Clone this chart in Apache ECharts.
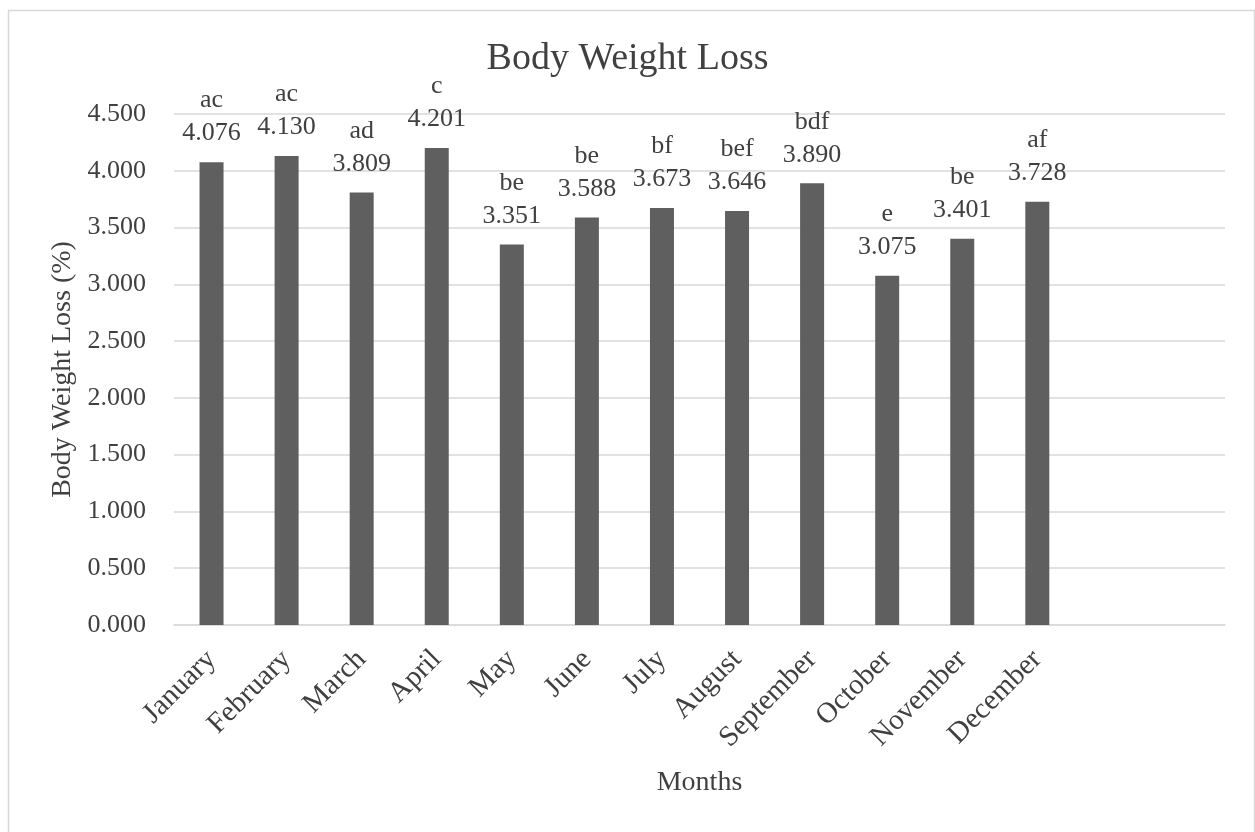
<!DOCTYPE html>
<html>
<head>
<meta charset="utf-8">
<script src="https://cdn.jsdelivr.net/npm/echarts@6/dist/echarts.min.js"></script>
<style>
html,body{margin:0;padding:0;background:#fff;}
#chart{width:1255px;height:832px;}
</style>
</head>
<body>
<div id="chart"></div>
<script>
const categories = ['January','February','March','April','May','June','July','August','September','October','November','December','',''];
const values = [4.076, 4.130, 3.809, 4.201, 3.351, 3.588, 3.673, 3.646, 3.890, 3.075, 3.401, 3.728];
const letters = ['ac','ac','ad','c','be','be','bf','bef','bdf','e','be','af'];
const yTicks = {min: 0, max: 4.5, interval: 0.5};

const FONT = '"Liberation Serif", "DejaVu Serif", serif';
const TXT = '#404040';
const chart = echarts.init(document.getElementById('chart'), null, {renderer: 'canvas'});
chart.setOption({
  animation: false,
  backgroundColor: '#ffffff',
  textStyle: {fontFamily: FONT, color: TXT},
  graphic: [{
    type: 'rect', left: 6, top: 8, shape: {width: 1246, height: 840},
    style: {fill: 'none', stroke: '#d9d9d9', lineWidth: 1.5}, silent: true
  }],
  title: {
    text: 'Body Weight Loss', left: 'center', top: 35,
    textStyle: {fontFamily: FONT, fontSize: 38, fontWeight: 'normal', color: TXT}
  },
  grid: {left: 174, right: 30, top: 114, bottom: 207},
  xAxis: {
    type: 'category', data: categories,
    name: 'Months', nameLocation: 'middle', nameGap: 144,
    nameTextStyle: {fontFamily: FONT, fontSize: 28, color: TXT},
    axisLine: {show: true, lineStyle: {color: '#d9d9d9', width: 1.5}},
    axisTick: {show: false},
    axisLabel: {rotate: 45, margin: 30, interval: 0, fontFamily: FONT, fontSize: 29, color: TXT}
  },
  yAxis: {
    type: 'value', min: yTicks.min, max: yTicks.max, interval: yTicks.interval,
    name: 'Body Weight Loss (%)', nameLocation: 'middle', nameGap: 97,
    nameTextStyle: {fontFamily: FONT, fontSize: 28, color: TXT},
    axisLine: {show: false}, axisTick: {show: false},
    splitLine: {lineStyle: {color: '#d9d9d9', width: 1.5}},
    axisLabel: {margin: 28, fontFamily: FONT, fontSize: 26, color: TXT,
      formatter: v => v.toFixed(3)}
  },
  series: [{
    type: 'bar', data: values, barWidth: 24,
    itemStyle: {color: '#5f5f5f'},
    label: {
      show: true, position: 'top', distance: 12,
      fontFamily: FONT, fontSize: 26, lineHeight: 33, color: TXT, align: 'center',
      formatter: p => letters[p.dataIndex] + '\n' + values[p.dataIndex].toFixed(3)
    }
  }]
});
</script>
</body>
</html>
